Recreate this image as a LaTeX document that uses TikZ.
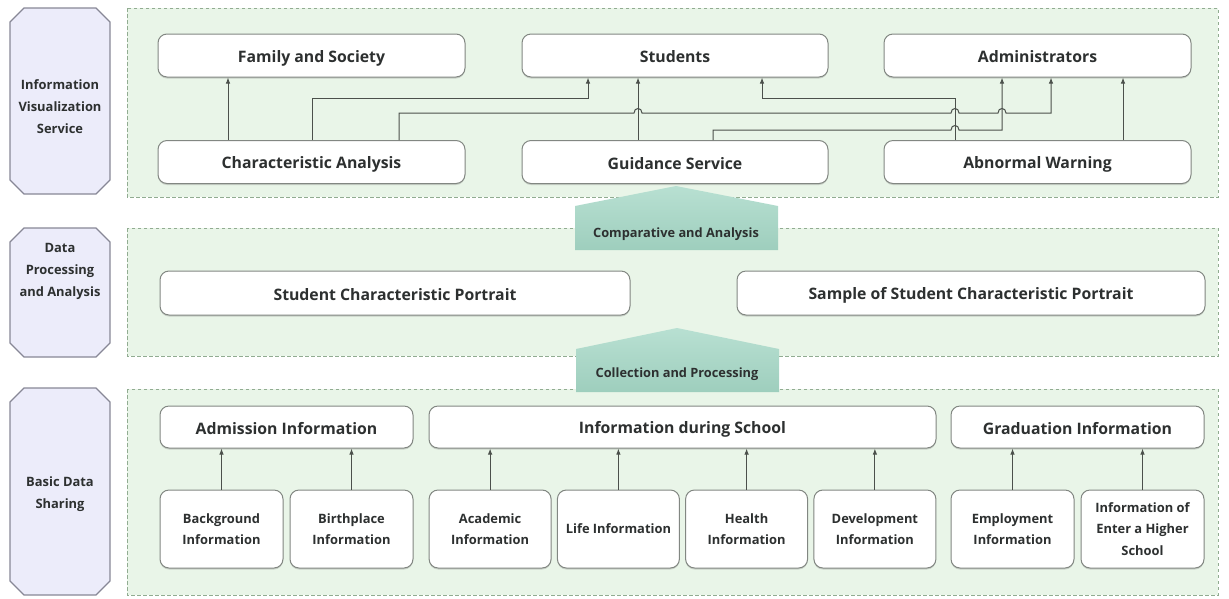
\documentclass[tikz,border=0pt]{standalone}
\usepackage{fontspec}
\setmainfont{Open Sans}
\usetikzlibrary{arrows.meta,shadows}

\definecolor{panelfill}{RGB}{233,245,232}
\definecolor{paneldraw}{RGB}{145,172,145}
\definecolor{octfill}{RGB}{236,236,250}
\definecolor{octdraw}{RGB}{135,135,150}
\definecolor{boxdraw}{RGB}{130,135,130}
\definecolor{txt}{RGB}{45,48,48}
\definecolor{pentlight}{RGB}{184,224,210}
\definecolor{pentdark}{RGB}{158,206,189}
\definecolor{linec}{RGB}{75,80,75}

\newcommand{\jmp}[2]{-- (#1-4,#2) .. controls (#1-4,#2-6) and (#1+4,#2-6) .. (#1+4,#2)}

\begin{document}
\begin{tikzpicture}[x=1pt,y=-1pt,
  panel/.style={draw=paneldraw, fill=panelfill, dash pattern=on 3.5pt off 2.5pt, line width=0.9pt},
  oct/.style={draw=octdraw, fill=octfill, line width=1.3pt, line join=round},
  octtext/.style={align=center, text=txt, font=\fontsize{12.9}{22}\selectfont\bfseries},
  box/.style={draw=boxdraw, fill=white, rounded corners=9pt, line width=1pt, inner sep=0pt,
    text=txt, font=\fontsize{15.8}{18}\selectfont\bfseries,
    drop shadow={shadow xshift=0pt, shadow yshift=-1.5pt, opacity=0.25, fill=black!60}},
  wbox/.style={box, minimum height=43pt, execute at begin node={\rule[-3pt]{0pt}{20pt}}},
  midbox/.style={box, minimum height=44pt, execute at begin node={\rule[-3pt]{0pt}{20pt}}},
  subbox/.style={box, minimum height=42pt, execute at begin node={\rule[-3pt]{0pt}{20pt}}},
  smallbox/.style={box, minimum height=78pt, align=center, text depth=-10pt,
    font=\fontsize{12.9}{21.7}\selectfont\bfseries},
  pent/.style={top color=pentlight, bottom color=pentdark, draw=none},
  penttext/.style={text=txt, font=\fontsize{12.8}{15}\selectfont\bfseries},
  conn/.style={draw=linec, line width=1pt, -{Latex[length=6pt,width=4.5pt]}}
]
\useasboundingbox (0,0) rectangle (1229,598);

% ---------- side labels ----------
\path[oct] (24,8) -- (96,8) -- (110,22) -- (110,180) -- (96,194) -- (24,194) -- (10,180) -- (10,22) -- cycle;
\node[octtext] (l1) at (60,106.5) {Information\\Visualization\\Service};
\path[oct] (24,228) -- (96,228) -- (110,242) -- (110,343) -- (96,357) -- (24,357) -- (10,343) -- (10,242) -- cycle;
\node[octtext] (l2) at (60,271) {Data\\Processing\\and Analysis};
\path[oct] (24,388) -- (96,388) -- (110,402) -- (110,581) -- (96,595) -- (24,595) -- (10,581) -- (10,402) -- cycle;
\node[octtext] (l3) at (60,494) {Basic Data\\Sharing};

% ---------- panels ----------
\path[panel] (127,8) rectangle (1218,197);
\path[panel] (127,228) rectangle (1218,356);
\path[panel] (127,389) rectangle (1218,595);

% ---------- top layer ----------
\node[wbox, minimum width=307pt] (fam) at (311.5,55.5) {Family and Society};
\node[wbox, minimum width=306pt] (stu) at (675,55.5) {Students};
\node[wbox, minimum width=307pt] (adm) at (1037.5,55.5) {Administrators};
\node[wbox, minimum width=307pt] (ca) at (311.5,162) {Characteristic Analysis};
\node[wbox, minimum width=306pt] (gs) at (675,162) {Guidance Service};
\node[wbox, minimum width=307pt] (aw) at (1037.5,162) {Abnormal Warning};

\draw[conn] (ca.north -| 228,0) -- (fam.south -| 228,0);
\draw[conn] (ca.north -| 312,0) |- (588,98) -- (stu.south -| 588,0);
\draw[conn] (ca.north -| 399,0) |- (560,113) \jmp{638}{113} \jmp{955}{113} \jmp{1002}{113} -- (1051,113) -- (adm.south -| 1051,0);
\draw[conn] (gs.north -| 638,0) -- (stu.south -| 638,0);
\draw[conn] (gs.north -| 713,0) |- (800,130) \jmp{955}{130} -- (1002,130) -- (adm.south -| 1002,0);
\draw[conn] (aw.north -| 955,0) |- (762,98) -- (stu.south -| 762,0);
\draw[conn] (aw.north -| 1123,0) -- (adm.south -| 1123,0);

% ---------- middle layer ----------
\node[midbox, minimum width=470pt] (scp) at (395,293) {Student Characteristic Portrait};
\node[midbox, minimum width=468pt] (sscp) at (971,293) {Sample of Student Characteristic Portrait};

% ---------- bottom layer ----------
\node[subbox, minimum width=253pt] (adi) at (286.5,427) {Admission Information};
\node[subbox, minimum width=507pt] (ids) at (682.5,427) {Information during School};
\node[subbox, minimum width=253pt] (gri) at (1077.5,427) {Graduation Information};

\node[smallbox, minimum width=123pt] (bg) at (221.5,529) {Background\\Information};
\node[smallbox, minimum width=123pt] (bp) at (351.5,529) {Birthplace\\Information};
\node[smallbox, minimum width=122pt] (ac) at (490.1,529) {Academic\\Information};
\node[smallbox, minimum width=122pt] (li) at (618.4,529) {Life Information};
\node[smallbox, minimum width=122pt] (he) at (746.6,529) {Health\\Information};
\node[smallbox, minimum width=122pt] (dv) at (874.9,529) {Development\\Information};
\node[smallbox, minimum width=123pt] (em) at (1012.5,529) {Employment\\Information};
\node[smallbox, minimum width=123pt] (hs) at (1142.5,529) {Information of\\Enter a Higher\\School};

\draw[conn] (bg) -- (bg |- adi.south);
\draw[conn] (bp) -- (bp |- adi.south);
\draw[conn] (ac) -- (ac |- ids.south);
\draw[conn] (li) -- (li |- ids.south);
\draw[conn] (he) -- (he |- ids.south);
\draw[conn] (dv) -- (dv |- ids.south);
\draw[conn] (em) -- (em |- gri.south);
\draw[conn] (hs) -- (hs |- gri.south);

% ---------- transition arrows ----------
\path[pent] (575,250) -- (575,206) -- (676,186) -- (778,206) -- (778,250) -- cycle;
\node[penttext] (cmp) at (676,234) {Comparative and Analysis};
\path[pent] (576,392) -- (576,349) -- (677,328) -- (779,349) -- (779,392) -- cycle;
\node[penttext] (col) at (677,374) {Collection and Processing};
\end{tikzpicture}
\end{document}
